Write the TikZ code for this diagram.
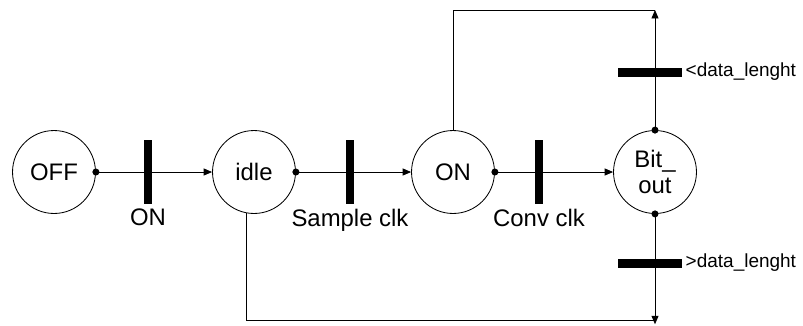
\documentclass[tikz,border=0pt]{standalone}
\usepackage{fontspec}
\setmainfont{Liberation Sans}
\usetikzlibrary{arrows.meta,positioning}

\tikzset{
  state/.style={circle, draw, line width=0.6pt, minimum size=59pt, inner sep=0pt,
    font=\fontsize{17}{19}\selectfont, align=center},
  vbar/.style={rectangle, fill=black, minimum width=5.6pt, minimum height=46pt, inner sep=0pt},
  hbar/.style={rectangle, fill=black, minimum width=46pt, minimum height=6.4pt, inner sep=0pt},
  arr/.style={line width=0.6pt, -{Triangle[length=6pt,width=5pt]}},
  ln/.style={line width=0.6pt},
  dot/.style={circle, fill=black, inner sep=0pt, minimum size=5pt},
  lbl/.style={font=\fontsize{17}{19}\selectfont, inner sep=1pt},
  slbl/.style={font=\fontsize{13.5}{15}\selectfont, inner sep=1pt}
}

\begin{document}
\begin{tikzpicture}[x=0.025cm, y=-0.025cm]
  \useasboundingbox (0,0) rectangle (803,325);

  % states
  \node[state] (off) at (54,172) {OFF};
  \node[state] (idle) at (254,172) {idle};
  \node[state] (on) at (453,172) {ON};
  \node[state] (bit) at (655,172) {Bit\_\\out};

  \coordinate (topR) at (655,10);
  \coordinate (botR) at (655,320);

  % forward arcs
  \draw[arr] (off.east) -- (idle.west);
  \draw[arr] (idle.east) -- (on.west);
  \draw[arr] (on.east) -- (bit.west);

  % loops
  \draw[ln] (on.north) |- (topR);
  \draw[arr] (bit.north) -- (topR);
  \draw[ln] (idle.260) |- (botR);
  \draw[arr] (bit.south) -- ([yshift=-3pt]botR);

  % transitions
  \node[vbar] (t1) at (148,172) {};
  \node[vbar] (t2) at (350,172) {};
  \node[vbar] (t3) at (539,172) {};
  \node[hbar] (t4) at (650,72) {};
  \node[hbar] (t5) at (650,263) {};

  \node[lbl, below=2pt of t1] {ON};
  \node[lbl, below=2pt of t2] {Sample clk};
  \node[lbl, below=2pt of t3] {Conv clk};
  \node[slbl, right=1pt of t4] {<data\_lenght};
  \node[slbl, right=1pt of t5] {>data\_lenght};

  % dots
  \foreach \p in {off.east, idle.east, on.east, bit.north, bit.south}
    \node[dot] at (\p) {};
\end{tikzpicture}
\end{document}
